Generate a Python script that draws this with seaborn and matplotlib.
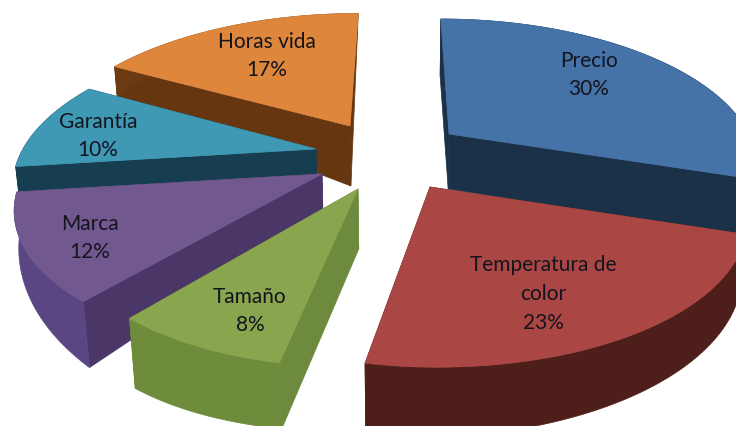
import numpy as np
import matplotlib
matplotlib.use("Agg")
import matplotlib.pyplot as plt
from matplotlib.patches import Polygon
import seaborn as sns

categories = ["Precio", "Temperatura de\ncolor", "Tamaño", "Marca", "Garantía", "Horas vida"]
values = [30, 23, 8, 12, 10, 17]

top_colors = ["#4572A7", "#AA4643", "#89A54E", "#71588F", "#3F99B5", "#DE863B"]
arc_colors = ["#1B3148", "#4E1E1B", "#6F8C3C", "#5A4682", "#173E50", "#6B3A12"]
radial_colors = ["#1B3148", "#4E1E1B", "#6E8A3D", "#4A3768", "#173E50", "#653610"]

# Layout of the exploded slices (pixel space): apex, radius, tilt, drop at start/end/apex
apex_x = [449, 430, 358, 322, 316, 350]
apex_y = [135, 188, 190, 175, 150, 127]
radius = [300, 310, 293, 298, 293, 300]
tilt = [0.46, 0.465, 0.485, 0.47, 0.465, 0.45]
drop_start = [57, 55, 66, 66, 25, 30]
drop_end = [57, 72, 70, 35, 25, 0]
drop_apex = [55, 55, 60, 38, 25, 60]
label_x = [589, 543, 250, 90, 98, 267]
label_y = [75, 294, 311, 238, 136, 56]
draw_order = [5, 4, 0, 3, 2, 1]

VANISH_X, PERSP, BOTTOM_SHRINK = 400.0, 0.2, 0.0003

sns.set_theme(style="white")
plt.rcParams["font.family"] = ["Lato", "DejaVu Sans"]
fig, ax = plt.subplots(figsize=(7.36, 4.27), dpi=100)
ax.set_position([0, 0, 1, 1])
ax.set_xlim(0, 736)
ax.set_ylim(427, 0)
ax.axis("off")


def project(i, theta):
    X = radius[i] * np.sin(theta)
    Y = np.cos(theta)
    f = 1.0 / (1.0 + PERSP * Y)
    return VANISH_X + (apex_x[i] - VANISH_X + X) * f, apex_y[i] - tilt[i] * radius[i] * Y * f


def lower(x, d):
    return VANISH_X + (x - VANISH_X) * (1 - BOTTOM_SHRINK * d)


fractions = np.array(values, dtype=float) / np.sum(values)
edges = np.concatenate([[0.0], np.cumsum(fractions)]) * 2 * np.pi

for i in draw_order:
    th = np.linspace(edges[i], edges[i + 1], 80)
    xs, ys = project(i, th)
    d = np.linspace(drop_start[i], drop_end[i], len(th))
    xb = lower(xs, d)
    a = (apex_x[i], apex_y[i])
    da = drop_apex[i]
    for k in (0, -1):
        ax.add_patch(Polygon([a, (xs[k], ys[k]), (xb[k], ys[k] + d[k]), (lower(a[0], da), a[1] + da)],
                             closed=True, fc=radial_colors[i], ec=radial_colors[i], lw=0.5))
    band = np.column_stack([np.r_[xs, xb[::-1]], np.r_[ys, (ys + d)[::-1]]])
    ax.add_patch(Polygon(band, closed=True, fc=arc_colors[i], ec=arc_colors[i], lw=0.5))
    top = np.column_stack([np.r_[a[0], xs], np.r_[a[1], ys]])
    ax.add_patch(Polygon(top, closed=True, fc=top_colors[i], ec=top_colors[i], lw=0.5))

for i, cat in enumerate(categories):
    ax.text(label_x[i], label_y[i], f"{cat}\n{values[i]}%", ha="center", va="center",
            fontsize=15, color="#14141E", linespacing=1.55)

fig.savefig("out.png", dpi=100)
